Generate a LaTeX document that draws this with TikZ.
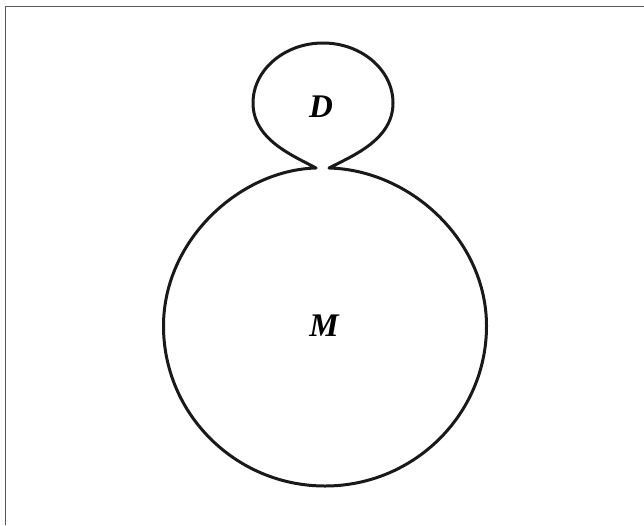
\documentclass[tikz,border=0pt]{standalone}
\usepackage{fontspec}
\setmainfont{Liberation Serif}
\begin{document}
\begin{tikzpicture}[x=1pt,y=-1pt,
  outline/.style={line width=3pt, line join=round, line cap=round, black!90},
  frameline/.style={line width=1.8pt, black!65},
  lbl/.style={font=\fontsize{33}{33}\selectfont\bfseries\itshape, inner sep=0pt}]
\useasboundingbox (0,0) rectangle (644,525);
\draw[frameline] (5.5,525) -- (5.5,6.5) -- (644,6.5);
\draw[outline]
  (316,168) .. controls (240,170) and (163.5,240) .. (163.5,326)
  .. controls (163.5,414.3) and (235.9,486) .. (325,486)
  .. controls (414.1,486) and (486.5,414.3) .. (486.5,326)
  .. controls (486.5,240) and (410,170) .. (329,168)
  .. controls (352,156) and (393,140) .. (393,103)
  .. controls (393,70) and (361.6,43) .. (323,43)
  .. controls (284.4,43) and (253,70) .. (253,103)
  .. controls (253,140) and (294,156) .. (316,168);
\node[lbl] (D) at (321,107) {D};
\node[lbl] (M) at (324,326) {M};
\end{tikzpicture}
\end{document}
